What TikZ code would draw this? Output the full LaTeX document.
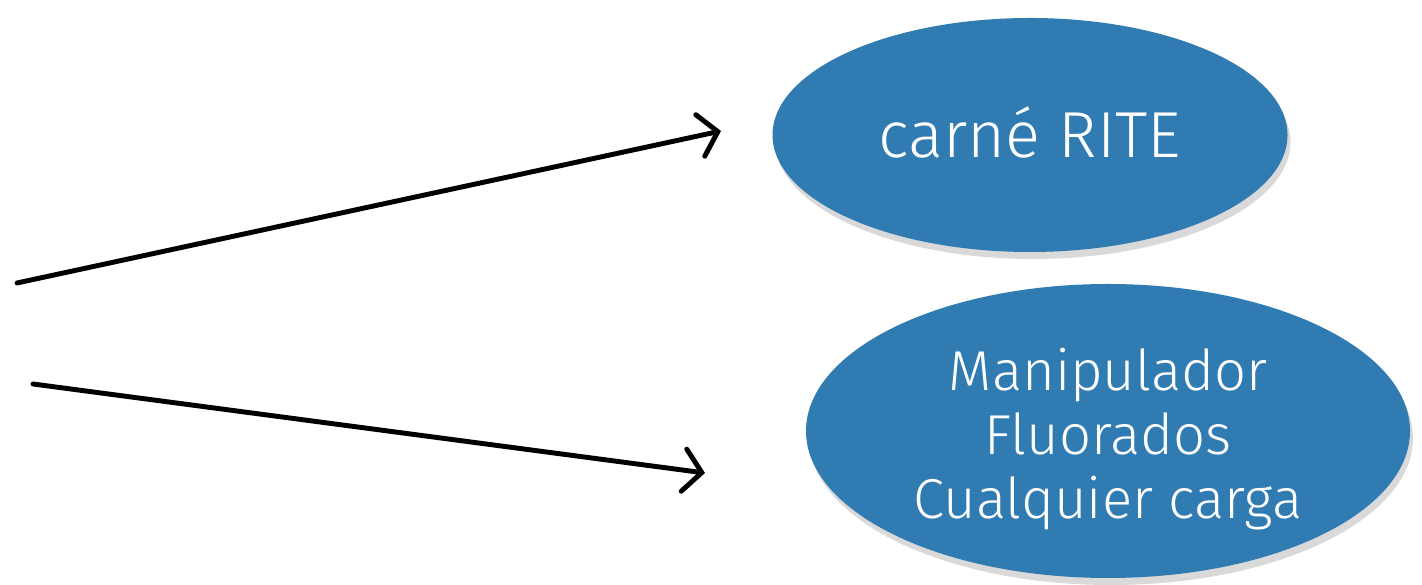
\documentclass[tikz,border=0pt]{standalone}
\usepackage{fontspec}
\setmainfont{Fira Sans Light}
\usetikzlibrary{arrows.meta,shapes.geometric,shadows}
\definecolor{ovalblue}{HTML}{2F7BB2}
\begin{document}
\begin{tikzpicture}[
        oval/.style={ellipse, fill = ovalblue, inner sep=0pt,
          drop shadow={shadow xshift=0.6mm, shadow yshift=-1.4mm, opacity=0.3}},
        ovaltext/.style={text = white, align=center, inner sep=0pt},
        arr/.style={line width=2.8pt, line cap=round,
          -{Straight Barb[length=3.6mm, width=8.5mm, line cap=round]}}
      ]
      \useasboundingbox (0,0) rectangle (28.44,11.7);
      \node [oval, minimum width=10.3cm, minimum height=4.68cm] (rite) at (20.6,9.0) {};
      \node [ovaltext, font=\fontsize{37}{42}\selectfont] (ritetext) at ([yshift=0.06cm]rite.center) {carn\'e RITE};
      \node [oval, minimum width=12.08cm, minimum height=5.88cm] (fluor) at (22.16,3.08) {};
      \node [ovaltext, font=\fontsize{32}{36.5}\selectfont] (fluortext) at ([yshift=-0.16cm]fluor.center)
          {Manipulador\\Fluorados\\Cualquier carga};
      \coordinate (from1) at (0.34,6.04);
      \coordinate (from2) at (0.66,4.02);
      \coordinate (to1) at (14.42,9.08);
      \coordinate (to2) at (14.1,2.24);
      \draw [arr] (from1) -- (to1);
      \draw [arr] (from2) -- (to2);
    \end{tikzpicture}
\end{document}
